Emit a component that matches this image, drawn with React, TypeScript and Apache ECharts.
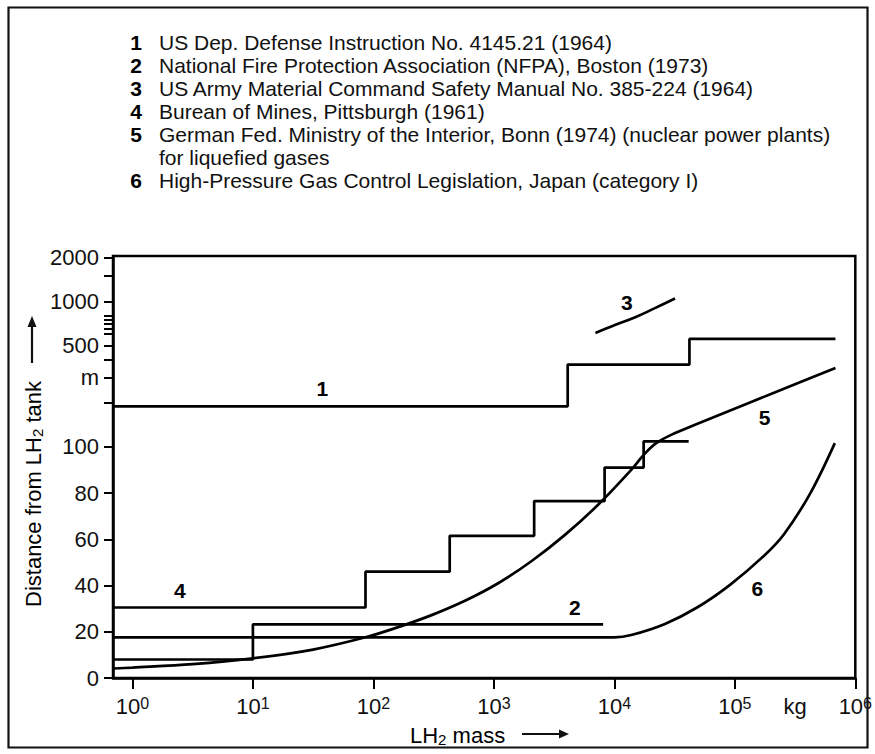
import React, { useEffect, useRef } from 'react';
import * as echarts from 'echarts';

const FONT = '"Liberation Sans", Arial, Helvetica, sans-serif';

// ---- legend (top caption) ----
const legendNumbers = ['1', '2', '3', '4', '5', '', '6'];
const legendTexts = [
  'US Dep. Defense Instruction No. 4145.21 (1964)',
  'National Fire Protection Association (NFPA), Boston (1973)',
  'US Army Material Command Safety Manual No. 385-224 (1964)',
  'Burean of Mines, Pittsburgh (1961)',
  'German Fed. Ministry of the Interior, Bonn (1974) (nuclear power plants)',
  'for liquefied gases',
  'High-Pressure Gas Control Legislation, Japan (category I)',
];

// ---- axes ----
const massMin = 0.69; // kg, left edge of the plot
const massMax = 1e6; // kg
const xTickExponents = [0, 1, 2, 3, 4, 5, 6];
const xUnitLabel = 'kg';
const xUnitPos = 5.5; // decade position of the unit label
const distTop = 2060; // m, top edge of plot
const breakValue = 100; // linear below, logarithmic above
const yLabelValues = [0, 20, 40, 60, 80, 100, 300, 500, 1000, 2000];
const yLabelTexts = ['0', '20', '40', '60', '80', '100', 'm', '500', '1000', '2000'];
const yMinorTickValues = [200, 400, 600, 650, 700, 750, 800, 1500];

// ---- curve 1: US Dep. Defense (steps) ----
const s1StepMasses = [4100, 42000];
const s1Levels = [190, 368, 553];
const s1EndMass = 684000;

// ---- curve 2: NFPA (steps) ----
const s2StepMasses = [10];
const s2Levels = [8, 23.2];
const s2EndMass = 8070;

// ---- curve 3: US Army ----
const s3Masses = [6970, 10100, 14900, 21700, 31900];
const s3Dist = [608, 689, 780, 901, 1049];

// ---- curve 4: Bureau of Mines (steps) ----
const s4StepMasses = [86, 430, 2160, 8300, 17500];
const s4Levels = [30.5, 46, 61.5, 76.5, 91, 109];
const s4EndMass = 41400;

// ---- curve 5: German Fed. Ministry ----
const s5Masses = [0.69, 1, 3.16, 10, 31.6, 86, 163, 308, 581, 1094, 2061, 3890, 7328, 13800, 17500, 22130, 31600, 49000, 126000, 331000, 684000];
const s5Dist = [4.1, 4.5, 6.0, 8.5, 12.3, 17.6, 22.1, 27.3, 33.5, 41.1, 50.6, 61.9, 74.9, 90, 96.5, 105.7, 123.9, 144, 198, 274, 349];

// ---- curve 6: Japan ----
const s6Masses = [0.69, 10000, 13800, 26300, 49000, 91200, 174000, 256000, 425000, 676000];
const s6Dist = [17.6, 17.6, 18.6, 23.4, 30.6, 40.3, 52.8, 62.2, 80.1, 106];

// ---- curve number labels ----
const curveLabelText = ['1', '2', '3', '4', '5', '6'];
const curveLabelMass = [37.7, 4710, 12700, 2.48, 177000, 154000];
const curveLabelDist = [251, 30.7, 978, 37.7, 158, 38.8];

// scale helpers: linear 0..100, log above 100
const K = 62.8;
const T = (v: number) => (v <= breakValue ? v : breakValue + K * Math.log10(v / breakValue));
const X = (m: number) => Math.log10(m);

function stepData(start: number, steps: number[], levels: number[], end: number) {
  const pts: number[][] = [[X(start), T(levels[0])]];
  steps.forEach((m, i) => pts.push([X(m), T(levels[i + 1])]));
  pts.push([X(end), T(levels[levels.length - 1])]);
  return pts;
}
function curveData(ms: number[], ds: number[]) {
  return ms.map((m, i) => [X(m), T(ds[i])]);
}

export default function App() {
  const ref = useRef<HTMLDivElement>(null);
  useEffect(() => {
    if (!ref.current) return;
    const chart = echarts.init(ref.current, undefined, { renderer: 'svg' });
    const lineStyle = { color: '#000', width: 2.7 };
    const baseLine = {
      type: 'line' as const,
      symbol: 'none',
      showSymbol: false,
      silent: true,
      lineStyle,
      z: 3,
    };
    const graphics: any[] = [];
    graphics.push({
      type: 'rect',
      shape: { x: 8.5, y: 7.5, width: 859, height: 740 },
      style: { fill: 'none', stroke: '#111', lineWidth: 2.2 },
      silent: true,
    });
    const rowY0 = 42;
    const rowStep = 23;
    legendTexts.forEach((t, i) => {
      const y = rowY0 + i * rowStep;
      if (legendNumbers[i]) {
        graphics.push({
          type: 'text',
          x: 136,
          y,
          style: { text: legendNumbers[i], font: `bold 21px ${FONT}`, fill: '#000', align: 'center', verticalAlign: 'middle' },
        });
      }
      graphics.push({
        type: 'text',
        x: 159,
        y,
        style: { text: t, font: `21px ${FONT}`, fill: '#111', align: 'left', verticalAlign: 'middle' },
      });
    });
    const titleRich = {
      a: { fontSize: 22, lineHeight: 24, fontFamily: FONT, color: '#111' },
      s: { fontSize: 15, lineHeight: 15, fontFamily: FONT, color: '#111', verticalAlign: 'bottom' },
    };
    // y axis title (rotated)
    graphics.push({
      type: 'text',
      x: 33,
      y: 494,
      rotation: Math.PI / 2,
      style: { text: '{a|Distance from LH}{s|2}{a| tank}', rich: titleRich, align: 'center', verticalAlign: 'middle' },
    });
    graphics.push({ type: 'line', shape: { x1: 32, y1: 363, x2: 32, y2: 326 }, style: { stroke: '#111', lineWidth: 2.2 } });
    graphics.push({ type: 'polygon', shape: { points: [[27.5, 327], [36.5, 327], [32, 316]] }, style: { fill: '#111' } });
    // x axis title
    graphics.push({
      type: 'text',
      x: 410,
      y: 735,
      style: { text: '{a|LH}{s|2}{a| mass}', rich: titleRich, align: 'left', verticalAlign: 'middle' },
    });
    graphics.push({ type: 'line', shape: { x1: 522, y1: 734, x2: 560, y2: 734 }, style: { stroke: '#111', lineWidth: 2.2 } });
    graphics.push({ type: 'polygon', shape: { points: [[559, 729.5], [559, 738.5], [569, 734]] }, style: { fill: '#111' } });

    const yTicks = [...yLabelValues, ...yMinorTickValues].map(T);
    const yLabels = yLabelValues.map(T);

    chart.setOption({
      animation: false,
      backgroundColor: '#fff',
      grid: { left: 113, top: 256, right: 16.5, bottom: 76, show: true, borderColor: '#000', borderWidth: 2.5, backgroundColor: 'transparent' },
      xAxis: {
        type: 'value',
        min: X(massMin),
        max: X(massMax),
        splitLine: { show: false },
        axisLine: { show: true, onZero: false, lineStyle: { color: '#000', width: 2.5 } },
        axisTick: { show: true, inside: false, length: 11, lineStyle: { color: '#000', width: 2 }, customValues: xTickExponents },
        axisLabel: {
          show: true,
          margin: 17,
          customValues: [...xTickExponents, xUnitPos],
          formatter: (v: number) => (Math.abs(v - xUnitPos) < 1e-6 ? `{b|${xUnitLabel}}` : `{b|10}{s|${Math.round(v)}}`),
          rich: {
            b: { fontSize: 22, lineHeight: 22, fontFamily: FONT, color: '#111' },
            s: { fontSize: 16, lineHeight: 15, fontFamily: FONT, color: '#111', verticalAlign: 'top' },
          },
        },
      },
      yAxis: {
        type: 'value',
        min: 0,
        max: T(distTop),
        splitLine: { show: false },
        axisLine: { show: true, onZero: false, lineStyle: { color: '#000', width: 2.5 } },
        axisTick: { show: true, inside: false, length: 9, lineStyle: { color: '#000', width: 2 }, customValues: yTicks },
        axisLabel: {
          show: true,
          margin: 14,
          customValues: yLabels,
          fontSize: 22,
          fontFamily: FONT,
          color: '#111',
          formatter: (v: number) => {
            const i = yLabels.findIndex((y) => Math.abs(y - v) < 1e-6);
            return i >= 0 ? yLabelTexts[i] : '';
          },
        },
      },
      graphic: graphics,
      series: [
        { ...baseLine, name: '1', step: 'end', data: stepData(massMin, s1StepMasses, s1Levels, s1EndMass) },
        { ...baseLine, name: '2', step: 'end', data: stepData(massMin, s2StepMasses, s2Levels, s2EndMass) },
        { ...baseLine, name: '3', smooth: 0.4, data: curveData(s3Masses, s3Dist) },
        { ...baseLine, name: '4', step: 'end', data: stepData(massMin, s4StepMasses, s4Levels, s4EndMass) },
        { ...baseLine, name: '5', smooth: 0.35, data: curveData(s5Masses, s5Dist) },
        { ...baseLine, name: '6', smooth: 0.35, data: curveData(s6Masses, s6Dist) },
        {
          type: 'scatter',
          name: 'labels',
          silent: true,
          symbolSize: 1,
          itemStyle: { color: 'rgba(0,0,0,0)' },
          z: 4,
          data: curveLabelText.map((t, i) => [X(curveLabelMass[i]), T(curveLabelDist[i]), t]),
          label: {
            show: true,
            position: 'inside',
            formatter: (p: any) => p.data[2],
            fontSize: 21,
            fontWeight: 'bold',
            fontFamily: FONT,
            color: '#000',
            opacity: 1,
            textBorderWidth: 0,
          },
        },
      ],
    });
    return () => chart.dispose();
  }, []);
  return <div ref={ref} style={{ position: 'absolute', left: 0, top: 0, width: 875, height: 754, background: '#fff' }} />;
}
